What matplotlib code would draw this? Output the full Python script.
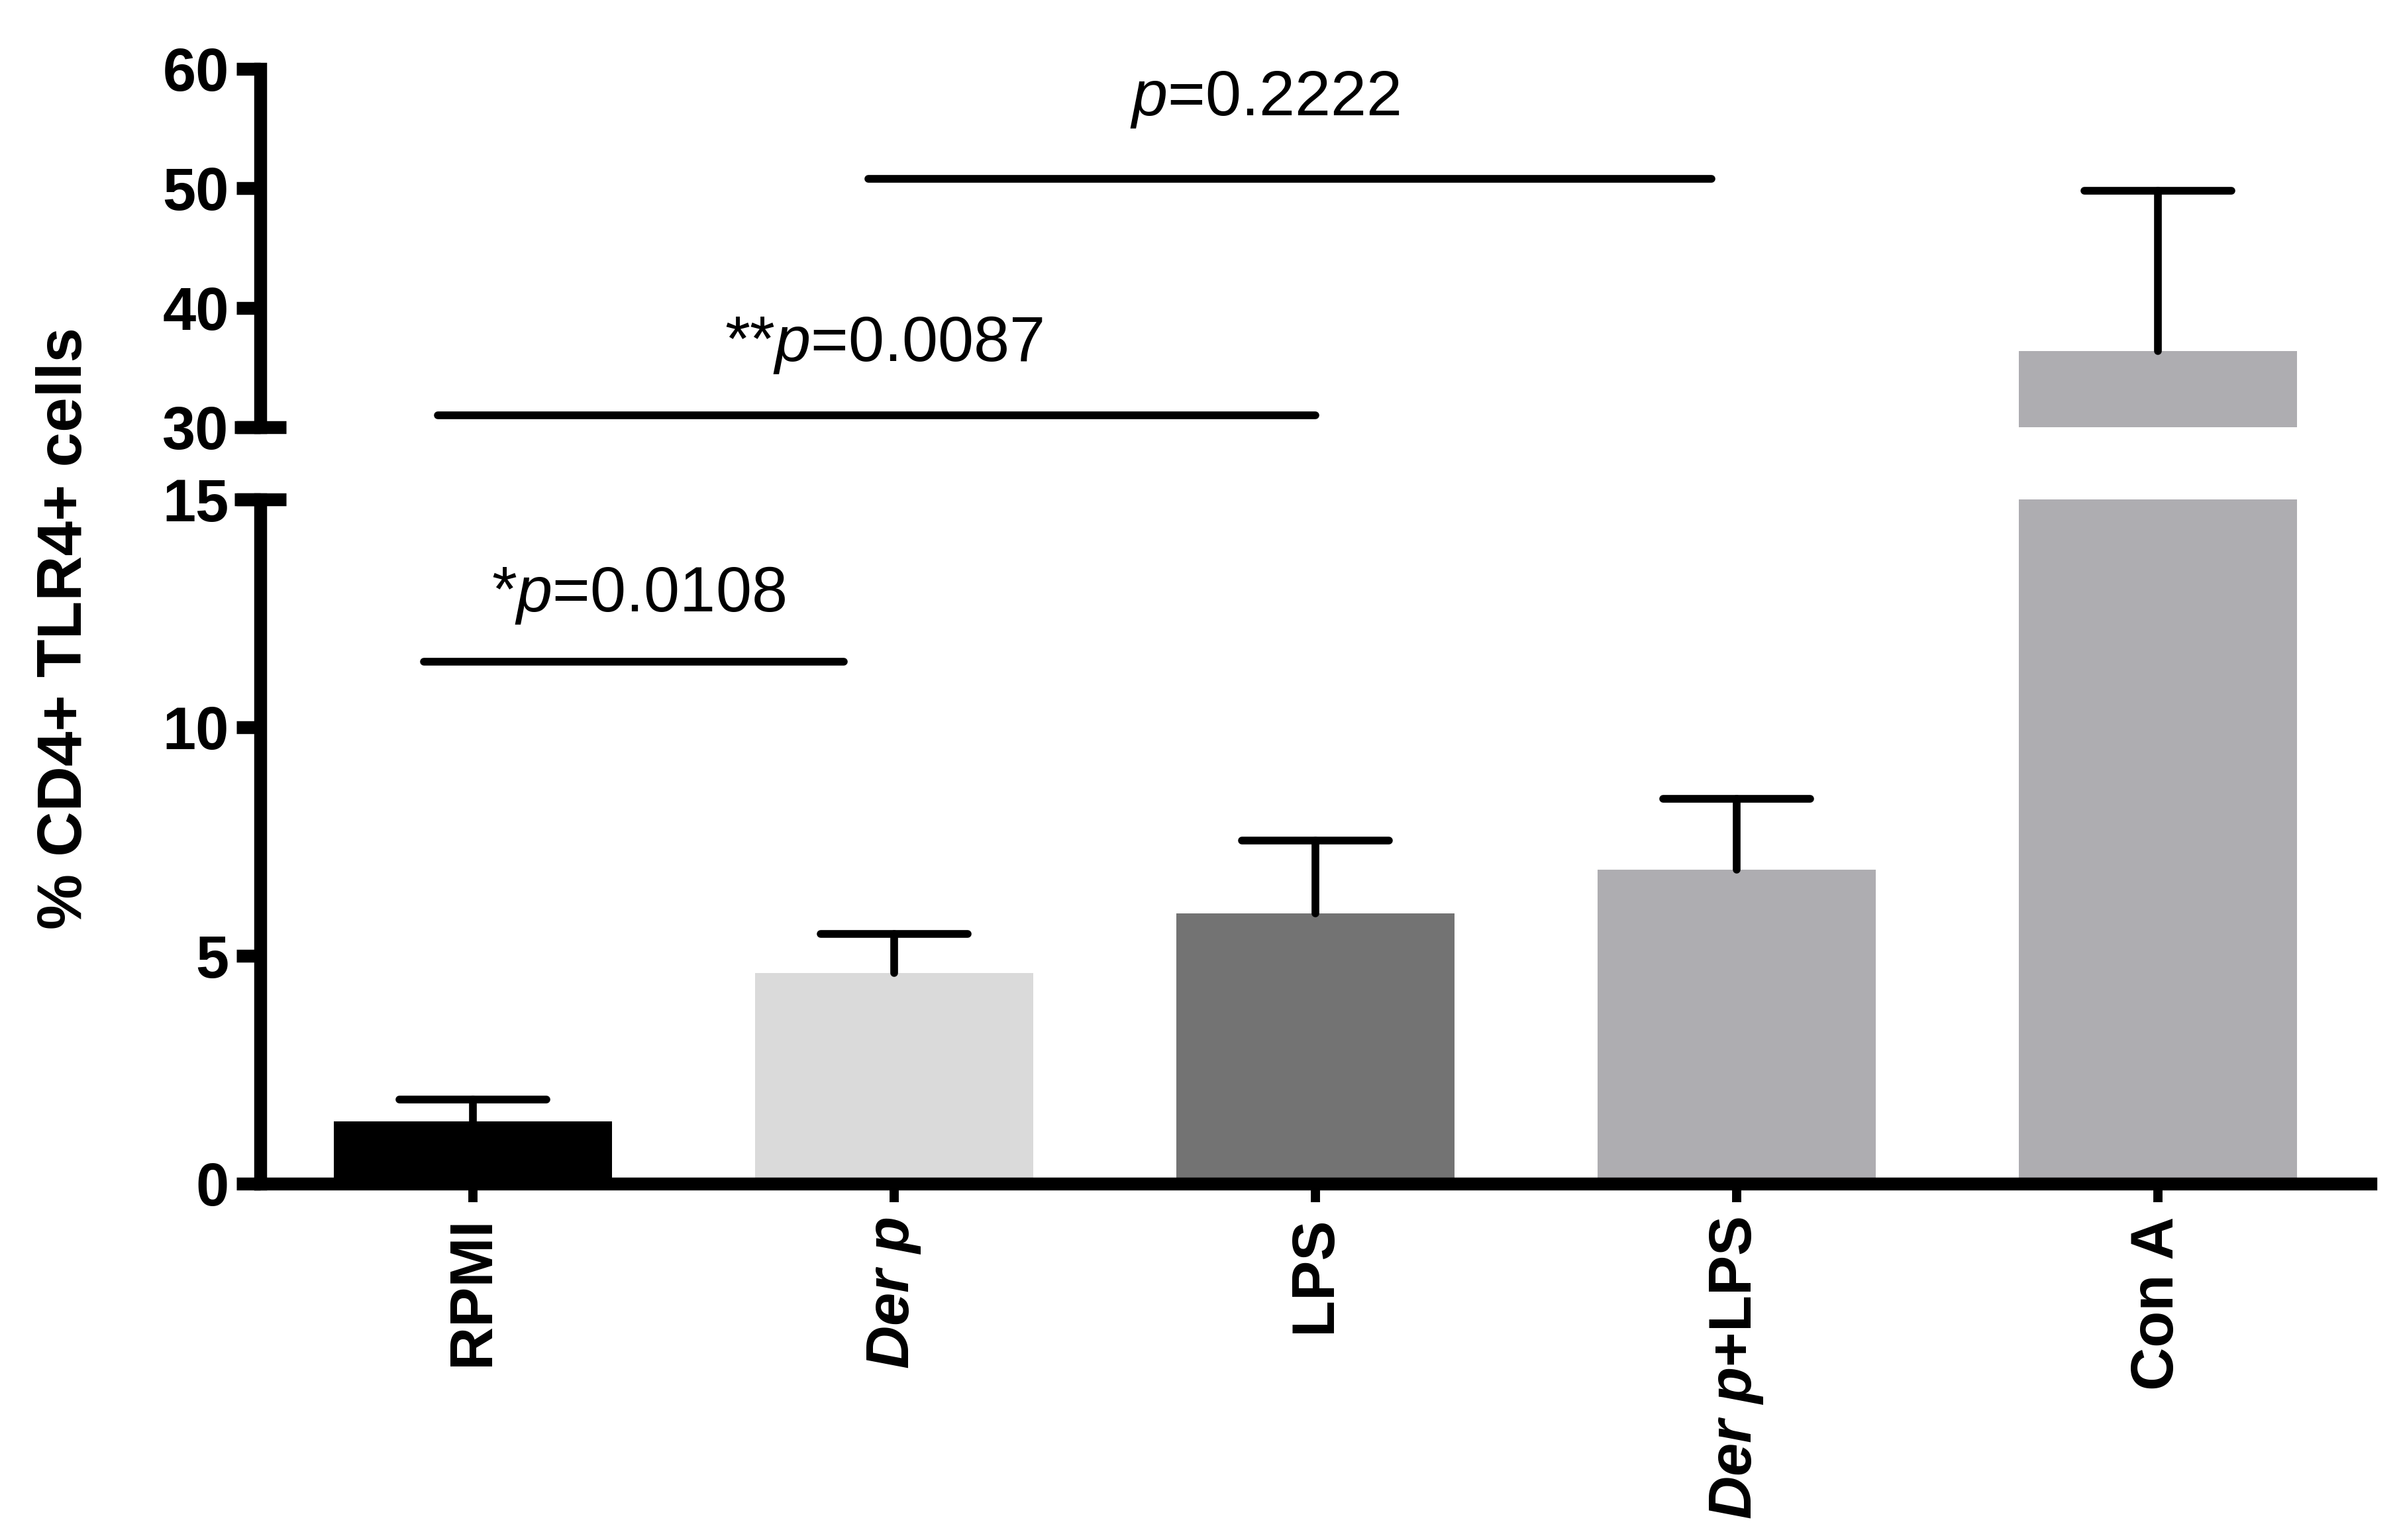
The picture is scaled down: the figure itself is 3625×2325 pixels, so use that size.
import numpy as np
import matplotlib
matplotlib.use("Agg")
import matplotlib.pyplot as plt

plt.rcParams['font.family'] = ['Liberation Sans', 'DejaVu Sans']
plt.rcParams['mathtext.fontset'] = 'custom'
plt.rcParams['mathtext.rm'] = 'Liberation Sans'
plt.rcParams['mathtext.it'] = 'Liberation Sans:italic'
plt.rcParams['mathtext.bf'] = 'Liberation Sans:bold'
plt.rcParams['mathtext.bfit'] = 'Liberation Sans:bold:italic'

# data
groups = ["RPMI", r"$\mathbfit{Der\ p}$", "LPS", r"$\mathbfit{Der\ p}$+LPS", "Con A"]
means = [1.37, 4.62, 5.92, 6.89, 36.4]
sem = [0.47, 0.86, 1.60, 1.54, 13.4]
colors = ["#000000", "#dadada", "#737373", "#aeadb1", "#aeadb1"]

# significance brackets: (x start, x end, y line)
sig_lines = [(-0.116, 0.88, 11.44), (-0.084, 2.0, 31.0), (0.938, 2.94, 50.8)]
sig_labels = [r"*$\mathit{p}$=0.0108", r"**$\mathit{p}$=0.0087", r"$\mathit{p}$=0.2222"]
sig_text_pos = [(0.393, 12.9), (0.975, 36.9), (1.88, 57.4)]

x = np.arange(len(groups))
lw_spine = 7
tick_fs = 32.5

fig = plt.figure(figsize=(18.125, 11.625), dpi=200)
left, width = 0.1084, 0.8789
ax_lo = fig.add_axes([left, 0.2314, width, 0.4443])
ax_hi = fig.add_axes([left, 0.7226, width, 0.2327])

for ax in (ax_lo, ax_hi):
    ax.bar(x, means, width=0.66, color=colors, zorder=2)
    top = np.array(means) + np.array(sem)
    vl = ax.vlines(x, means, top, color="black", linewidth=4.2, zorder=3)
    hl = ax.hlines(top, x - 0.175, x + 0.175, color="black", linewidth=4.2, zorder=3)
    vl.set_capstyle("round")
    hl.set_capstyle("round")
    ax.set_xlim(-0.505, 4.505)
    for s in ("top", "right"):
        ax.spines[s].set_visible(False)
    ax.spines["left"].set_linewidth(lw_spine)
    ax.spines["bottom"].set_linewidth(lw_spine)
    ax.tick_params(axis="y", width=lw_spine, length=13, pad=4, labelsize=tick_fs)

ax_lo.set_ylim(0, 15)
ax_lo.set_yticks([0, 5, 10, 15])
ax_hi.set_ylim(30, 60)
ax_hi.set_yticks([30, 40, 50, 60])
ax_hi.spines["bottom"].set_visible(False)
ax_hi.set_xticks([])
for ax in (ax_lo, ax_hi):
    for lab in ax.get_yticklabels():
        lab.set_fontweight("bold")

ax_lo.set_xticks(x)
ax_lo.set_xticklabels(groups, rotation=90, fontsize=tick_fs, fontweight="bold")
ax_lo.tick_params(axis="x", width=5, length=10, pad=8)

# caps at the axis break
d = 0.0122
ax_lo.plot([-d, d], [15, 15], transform=ax_lo.get_yaxis_transform(), color="black",
           linewidth=lw_spine, clip_on=False, solid_capstyle="butt")
ax_hi.plot([-d, d], [30, 30], transform=ax_hi.get_yaxis_transform(), color="black",
           linewidth=lw_spine, clip_on=False, solid_capstyle="butt")

# significance lines and labels
axes_for = [ax_lo, ax_hi, ax_hi]
for ax, (x0, x1, y), lab, (tx, ty) in zip(axes_for, sig_lines, sig_labels, sig_text_pos):
    ax.plot([x0, x1], [y, y], color="black", linewidth=4.2, solid_capstyle="round", clip_on=False)
    ax.text(tx, ty, lab, ha="center", va="center", fontsize=35)

fig.text(0.0273, 0.592, "% CD4+ TLR4+ cells", rotation=90, ha="center", va="center",
         fontsize=34, fontweight="bold")

fig.savefig("out.png", dpi=200)
